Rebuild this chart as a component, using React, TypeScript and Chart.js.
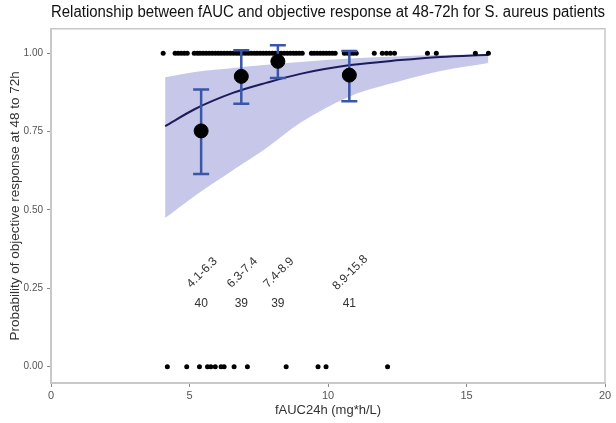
import React, { useEffect, useRef } from "react";
import { Chart, registerables } from "chart.js";

Chart.register(...registerables);

const chartTitle = "Relationship between fAUC and objective response at 48-72h for S. aureus patients";
const xTitle = "fAUC24h (mg*h/L)";
const yTitle = "Probability of objective response at 48 to 72h";

const xTicks = [0, 5, 10, 15, 20];
const yTicks = [0, 0.25, 0.5, 0.75, 1.0];

// fitted logistic curve and its confidence band
const fitX = [4.12, 5.2, 6.59, 7.79, 9.0, 10.81, 12.61, 14.06, 15.79];
const fitY = [0.767, 0.822, 0.874, 0.906, 0.934, 0.962, 0.978, 0.988, 0.995];
const bandUpper = [0.923, 0.94, 0.953, 0.963, 0.972, 0.983, 0.99, 0.994, 0.996];
const bandLower = [0.474, 0.545, 0.628, 0.698, 0.778, 0.863, 0.911, 0.943, 0.969];

// individual patients: responders (y = 1) and non-responders (y = 0)
const responderX = [
  4.05, 4.48, 4.59, 4.7, 4.81, 4.92, 5.17, 5.28, 5.38, 5.49, 5.6, 5.71, 5.82, 5.93, 6.04, 6.14,
  6.25, 6.36, 6.47, 6.58, 6.69, 6.79, 6.9, 7.01, 7.12, 7.23, 7.34, 7.44, 7.55, 7.66, 7.77, 7.88,
  7.99, 8.1, 8.2, 8.31, 8.42, 8.53, 8.64, 8.75, 8.85, 8.96, 9.07, 9.4, 9.5, 9.61, 9.72, 9.83,
  9.94, 10.05, 10.16, 10.26, 10.59, 10.7, 10.81, 10.91, 11.02, 11.67, 11.96, 12.11, 12.25, 12.4,
  13.59, 13.91, 15.32, 15.79,
];
const nonResponderX = [4.2, 4.9, 5.36, 5.65, 5.77, 5.93, 6.14, 6.25, 6.61, 7.09, 8.49, 9.64, 9.93, 12.15];

// quartile bins: observed proportion with 95% CI
const binLabels = ["4.1-6.3", "6.3-7.4", "7.4-8.9", "8.9-15.8"];
const binN = [40, 39, 39, 41];
const binX = [5.42, 6.87, 8.19, 10.77];
const binY = [0.752, 0.926, 0.974, 0.93];
const binLow = [0.615, 0.839, 0.921, 0.847];
const binHigh = [0.884, 1.009, 1.025, 1.007];

const labelY = 0.3;
const countY = 0.2;

const FONT = "Arial, 'Liberation Sans', sans-serif";

const overlayPlugin = {
  id: "overlay",
  afterDatasetDraw(chart: any, args: any) {
    if (args.meta.label !== "responders") return;
    const x = chart.scales.x;
    const y = chart.scales.y;
    const ctx = chart.ctx;
    ctx.save();
    ctx.strokeStyle = "#3a56a8";
    ctx.lineWidth = 2.5;
    for (let i = 0; i < binX.length; i++) {
      const px = x.getPixelForValue(binX[i]);
      const pl = y.getPixelForValue(binLow[i]);
      const ph = y.getPixelForValue(binHigh[i]);
      ctx.beginPath();
      ctx.moveTo(px, pl);
      ctx.lineTo(px, ph);
      ctx.moveTo(px - 8, pl);
      ctx.lineTo(px + 8, pl);
      ctx.moveTo(px - 8, ph);
      ctx.lineTo(px + 8, ph);
      ctx.stroke();
    }
    ctx.restore();
  },
  afterDraw(chart: any) {
    const x = chart.scales.x;
    const y = chart.scales.y;
    const ctx = chart.ctx;
    const a = chart.chartArea;
    ctx.save();
    ctx.strokeStyle = "#c8c8c8";
    ctx.lineWidth = 1.5;
    ctx.beginPath();
    ctx.moveTo(a.left, a.top);
    ctx.lineTo(a.right, a.top);
    ctx.lineTo(a.right, a.bottom);
    ctx.stroke();
    ctx.fillStyle = "#333";
    ctx.font = `12px ${FONT}`;
    ctx.textAlign = "center";
    ctx.textBaseline = "middle";
    for (let i = 0; i < binX.length; i++) {
      const px = x.getPixelForValue(binX[i]);
      ctx.save();
      ctx.translate(px + 1, y.getPixelForValue(labelY));
      ctx.rotate(-Math.PI / 4);
      ctx.fillText(binLabels[i], 0, 0);
      ctx.restore();
      ctx.fillText(String(binN[i]), px, y.getPixelForValue(countY));
    }
    ctx.restore();
  },
};

export default function App() {
  const ref = useRef<HTMLCanvasElement | null>(null);
  useEffect(() => {
    document.body.style.margin = "0";
    if (!ref.current) return;
    const pts = (xs: number[], ys: number[]) => xs.map((v, i) => ({ x: v, y: ys[i] }));
    const chart = new Chart(ref.current, {
      type: "line",
      data: {
        datasets: [
          {
            label: "bin means",
            data: pts(binX, binY),
            showLine: false,
            pointRadius: 7,
            pointBackgroundColor: "#000",
            pointBorderColor: "#000",
            order: 1,
          },
          {
            label: "responders",
            data: responderX.map((v) => ({ x: v, y: 1 })),
            showLine: false,
            pointRadius: 2.5,
            pointBorderWidth: 0,
            pointBackgroundColor: "#000",
            order: 2,
          },
          {
            label: "non-responders",
            data: nonResponderX.map((v) => ({ x: v, y: 0 })),
            showLine: false,
            pointRadius: 2.5,
            pointBorderWidth: 0,
            pointBackgroundColor: "#000",
            order: 3,
          },
          {
            label: "fit",
            data: pts(fitX, fitY),
            borderColor: "#1c1c5c",
            borderWidth: 2,
            pointRadius: 0,
            cubicInterpolationMode: "monotone",
            fill: false,
            order: 4,
          },
          {
            label: "upper",
            data: pts(fitX, bandUpper),
            borderWidth: 0,
            borderColor: "rgba(0,0,0,0)",
            backgroundColor: "rgb(199,199,233)",
            pointRadius: 0,
            cubicInterpolationMode: "monotone",
            fill: "+1",
            order: 5,
          },
          {
            label: "lower",
            data: pts(fitX, bandLower),
            borderWidth: 0,
            borderColor: "rgba(0,0,0,0)",
            pointRadius: 0,
            cubicInterpolationMode: "monotone",
            fill: false,
            order: 6,
          },
        ],
      },
      options: {
        responsive: false,
        animation: false,
        devicePixelRatio: 1,
        layout: { padding: { right: 11, left: 0, bottom: 0, top: 0 } },
        plugins: {
          legend: { display: false },
          tooltip: { enabled: false },
          title: {
            display: true,
            text: chartTitle,
            fullSize: false,
            color: "#111",
            font: { family: FONT, size: 15.6, weight: "normal" },
            padding: { top: 3, bottom: 7 },
          },
        },
        scales: {
          x: {
            type: "linear",
            min: 0,
            max: 20,
            afterBuildTicks: (s: any) => {
              s.ticks = xTicks.map((v) => ({ value: v }));
            },
            afterFit: (s: any) => {
              s.height = 40;
            },
            ticks: {
              color: "#555",
              font: { family: FONT, size: 11 },
              padding: 2,
              maxRotation: 0,
              callback: (v: any) => String(v),
            },
            grid: { display: true, drawOnChartArea: false, drawTicks: true, tickLength: 4, color: "#888" },
            border: { display: true, color: "#c8c8c8", width: 2 },
            title: {
              display: true,
              text: xTitle,
              color: "#333",
              font: { family: FONT, size: 13 },
              padding: { top: 0, bottom: 5 },
            },
          },
          y: {
            type: "linear",
            min: -0.052,
            max: 1.078,
            afterBuildTicks: (s: any) => {
              s.ticks = yTicks.map((v) => ({ value: v }));
            },
            afterFit: (s: any) => {
              s.width = 51;
            },
            ticks: {
              color: "#555",
              font: { family: FONT, size: 10 },
              padding: 4,
              callback: (v: any) => Number(v).toFixed(2),
            },
            grid: { display: true, drawOnChartArea: false, drawTicks: true, tickLength: 4, color: "#888" },
            border: { display: true, color: "#c8c8c8", width: 2 },
            title: {
              display: true,
              text: yTitle,
              color: "#333",
              font: { family: FONT, size: 13.5 },
              padding: { top: 7, bottom: 0 },
            },
          },
        },
      },
      plugins: [overlayPlugin],
    } as any);
    return () => chart.destroy();
  }, []);
  return <canvas ref={ref} width={616} height={423} style={{ display: "block" }} />;
}
